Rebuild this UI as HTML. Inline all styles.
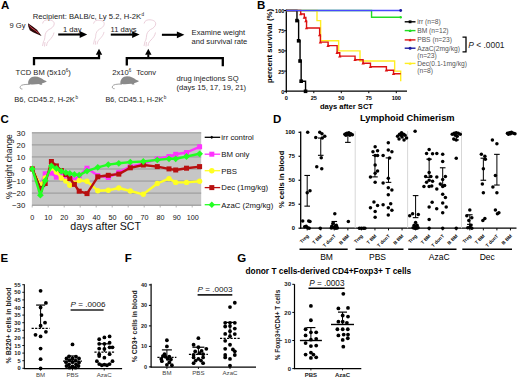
<!DOCTYPE html>
<html><head><meta charset="utf-8"><style>
html,body{margin:0;padding:0;background:#fff;}
svg{display:block;}
text{font-family:"Liberation Sans", sans-serif;}
</style></head><body>
<svg width="520" height="378" viewBox="0 0 520 378">
<rect width="520" height="378" fill="#fff"/>
<text x="1" y="9.1" font-size="11.5" font-weight="bold" text-anchor="start" fill="#000">A</text>
<text x="32.7" y="18.9" font-size="7.68" text-anchor="start" fill="#222">Recipient: BALB/c, Ly 5.2, H-2K</text>
<text x="141.6" y="15.6" font-size="4.6" text-anchor="start" fill="#222">d</text>
<text x="9.5" y="27.7" font-size="7.6" text-anchor="start" fill="#222">9 Gy</text>
<polygon points="28.00,23.30 32.00,26.00 37.00,29.80 41.60,36.00 37.50,34.20 33.00,32.30 29.80,30.20 28.30,26.50" fill="#2a0808"/>
<polyline points="29.20,25.50 32.00,28.20 35.50,30.60 38.80,33.20" fill="none" stroke="#d84050" stroke-width="1.0"/>
<path d="M0.6,4.5 C1,1.5 4,0.6 6.5,0.8 C10,1 12.5,2.5 12.2,5 C12,7.5 9.5,9.5 7,10.5 C4.5,12 3.2,14.5 3,17 C2.8,19.5 2.5,21 1.5,22.5 M12,13.5 C11.5,16.5 9.5,19 7.5,21 C6.5,22 5.5,23 5,24.5 M1.5,22.5 L0.5,27 M3,23 L2.5,27.5 M5,24.5 L4.5,27" fill="none" stroke="#e6c4d2" stroke-width="0.8" transform="translate(42,19) scale(1.0)"/>
<path d="M0.6,4.5 C1,1.5 4,0.6 6.5,0.8 C10,1 12.5,2.5 12.2,5 C12,7.5 9.5,9.5 7,10.5 C4.5,12 3.2,14.5 3,17 C2.8,19.5 2.5,21 1.5,22.5 M12,13.5 C11.5,16.5 9.5,19 7.5,21 C6.5,22 5.5,23 5,24.5 M1.5,22.5 L0.5,27 M3,23 L2.5,27.5 M5,24.5 L4.5,27" fill="none" stroke="#e6c4d2" stroke-width="0.8" transform="translate(93,19.5) scale(0.92)"/>
<path d="M0.6,4.5 C1,1.5 4,0.6 6.5,0.8 C10,1 12.5,2.5 12.2,5 C12,7.5 9.5,9.5 7,10.5 C4.5,12 3.2,14.5 3,17 C2.8,19.5 2.5,21 1.5,22.5 M12,13.5 C11.5,16.5 9.5,19 7.5,21 C6.5,22 5.5,23 5,24.5 M1.5,22.5 L0.5,27 M3,23 L2.5,27.5 M5,24.5 L4.5,27" fill="none" stroke="#e6c4d2" stroke-width="0.8" transform="translate(143.5,19) scale(1.0)"/>
<line x1="58.2" y1="34.5" x2="80.2" y2="34.5" stroke="#000" stroke-width="2.1"/>
<polygon points="79.70,31.10 87.20,34.50 79.70,37.90" fill="#000"/>
<text x="63" y="31.8" font-size="7.6" text-anchor="start" fill="#222">1 day</text>
<line x1="110.8" y1="34.6" x2="132.6" y2="34.6" stroke="#000" stroke-width="2.1"/>
<polygon points="132.10,31.20 139.60,34.60 132.10,38.00" fill="#000"/>
<text x="110.6" y="31.8" font-size="7.6" text-anchor="start" fill="#222">11 days</text>
<line x1="161.9" y1="34.8" x2="177.4" y2="34.8" stroke="#000" stroke-width="2.1"/>
<polygon points="176.90,31.40 184.40,34.80 176.90,38.20" fill="#000"/>
<text x="191.6" y="35.0" font-size="7.6" text-anchor="start" fill="#222">Examine weight</text>
<text x="191.6" y="43.9" font-size="7.6" text-anchor="start" fill="#222">and survival rate</text>
<polyline points="34.00,65.20 34.00,58.20 99.00,58.20 99.00,55.00" fill="none" stroke="#000" stroke-width="2.3"/>
<line x1="99" y1="58.2" x2="99" y2="54.3" stroke="#000" stroke-width="2.0"/>
<polygon points="95.80,54.80 99.00,48.80 102.20,54.80" fill="#000"/>
<polyline points="126.80,65.60 126.80,58.20 222.80,58.20 222.80,66.20" fill="none" stroke="#000" stroke-width="2.3"/>
<line x1="148.3" y1="58.2" x2="148.3" y2="54.3" stroke="#000" stroke-width="2.0"/>
<polygon points="145.10,54.80 148.30,48.80 151.50,54.80" fill="#000"/>
<text x="15.6" y="75" font-size="7.6" text-anchor="start" fill="#222">TCD BM (5x10<tspan font-size="4.5" dy="-3">6</tspan><tspan dy="3">)</tspan></text>
<text x="112.2" y="74.6" font-size="7.6" text-anchor="start" fill="#222">2x10<tspan font-size="4.5" dy="-3">6</tspan></text>
<text x="136.3" y="74.6" font-size="7.6" text-anchor="start" fill="#222">Tconv</text>
<text x="176.5" y="80.6" font-size="7.6" text-anchor="start" fill="#222">drug injections SQ</text>
<text x="176.5" y="89.9" font-size="7.6" text-anchor="start" fill="#222">(days 15, 17, 19, 21)</text>
<text x="14.3" y="101.7" font-size="7.4" text-anchor="start" fill="#222" textLength="60.6" lengthAdjust="spacingAndGlyphs">B6, CD45.2, H-2K</text>
<text x="75.4" y="98.6" font-size="4.6" text-anchor="start" fill="#222">b</text>
<text x="105.4" y="101.7" font-size="7.4" text-anchor="start" fill="#222" textLength="57.9" lengthAdjust="spacingAndGlyphs">B6, CD45.1, H-2K</text>
<text x="163.8" y="98.6" font-size="4.6" text-anchor="start" fill="#222">b</text>
<g transform="translate(19.8,76.5)"><path d="M8.5,8 C7.5,3.5 11,0 15,0 C19,0 22,2 24,3.5 L27,4.8 C26,6 24,6.5 22,7 L22.5,8.3 L20,8.3 L19.5,7.5 C16,8 12,8.1 10,7.8 L9.5,8.5 Z" fill="#8a8a8a"/><path d="M9,7.8 C5,8 1.5,8 0.5,10 C-0.2,11.5 0.8,12.6 2.6,12.5" fill="none" stroke="#8a8a8a" stroke-width="0.8"/></g>
<g transform="translate(112,76.2)"><path d="M8.5,8 C7.5,3.5 11,0 15,0 C19,0 22,2 24,3.5 L27,4.8 C26,6 24,6.5 22,7 L22.5,8.3 L20,8.3 L19.5,7.5 C16,8 12,8.1 10,7.8 L9.5,8.5 Z" fill="#8a8a8a"/><path d="M9,7.8 C5,8 1.5,8 0.5,10 C-0.2,11.5 0.8,12.6 2.6,12.5" fill="none" stroke="#8a8a8a" stroke-width="0.8"/></g>
<text x="257" y="9.4" font-size="11.5" font-weight="bold" text-anchor="start" fill="#000">B</text>
<line x1="286.3" y1="9.5" x2="286.3" y2="91.8" stroke="#000" stroke-width="1.3"/>
<line x1="285.7" y1="91.2" x2="407" y2="91.2" stroke="#000" stroke-width="1.3"/>
<line x1="284.1" y1="91.3" x2="286.3" y2="91.3" stroke="#000" stroke-width="1"/>
<text x="284.4" y="93.7" font-size="5.6" font-weight="bold" text-anchor="end" fill="#000">0</text>
<line x1="284.1" y1="71.1" x2="286.3" y2="71.1" stroke="#000" stroke-width="1"/>
<text x="284.4" y="73.5" font-size="5.6" font-weight="bold" text-anchor="end" fill="#000">25</text>
<line x1="284.1" y1="50.89999999999999" x2="286.3" y2="50.89999999999999" stroke="#000" stroke-width="1"/>
<text x="284.4" y="53.29999999999999" font-size="5.6" font-weight="bold" text-anchor="end" fill="#000">50</text>
<line x1="284.1" y1="30.699999999999996" x2="286.3" y2="30.699999999999996" stroke="#000" stroke-width="1"/>
<text x="284.4" y="33.099999999999994" font-size="5.6" font-weight="bold" text-anchor="end" fill="#000">75</text>
<line x1="284.1" y1="10.499999999999986" x2="286.3" y2="10.499999999999986" stroke="#000" stroke-width="1"/>
<text x="284.4" y="12.899999999999986" font-size="5.6" font-weight="bold" text-anchor="end" fill="#000">100</text>
<line x1="286.3" y1="91.2" x2="286.3" y2="93.2" stroke="#000" stroke-width="1"/>
<text x="286.3" y="99.9" font-size="5.6" font-weight="bold" text-anchor="middle" fill="#000">0</text>
<line x1="313.8" y1="91.2" x2="313.8" y2="93.2" stroke="#000" stroke-width="1"/>
<text x="313.8" y="99.9" font-size="5.6" font-weight="bold" text-anchor="middle" fill="#000">25</text>
<line x1="341.3" y1="91.2" x2="341.3" y2="93.2" stroke="#000" stroke-width="1"/>
<text x="341.3" y="99.9" font-size="5.6" font-weight="bold" text-anchor="middle" fill="#000">50</text>
<line x1="368.8" y1="91.2" x2="368.8" y2="93.2" stroke="#000" stroke-width="1"/>
<text x="368.8" y="99.9" font-size="5.6" font-weight="bold" text-anchor="middle" fill="#000">75</text>
<line x1="396.3" y1="91.2" x2="396.3" y2="93.2" stroke="#000" stroke-width="1"/>
<text x="396.3" y="99.9" font-size="5.6" font-weight="bold" text-anchor="middle" fill="#000">100</text>
<text x="320" y="108.5" font-size="7.57" font-weight="bold" text-anchor="start" fill="#000">days after SCT</text>
<text x="271.8" y="46" font-size="7.8" font-weight="bold" text-anchor="middle" fill="#000" transform="rotate(-90 271.8 46)">percent survival (%)</text>
<polyline points="286.30,10.50 371.55,10.50 371.55,10.50 371.55,10.50 371.55,17.21 400.70,17.21 400.70,17.21" fill="none" stroke="#22dd22" stroke-width="1.4"/>
<circle cx="400.70" cy="17.21" r="1.2" fill="#22dd22"/>
<polyline points="286.30,10.50 316.99,10.50 316.99,20.60 320.62,20.60 320.62,40.80 338.66,40.80 338.66,50.90 360.00,50.90 360.00,61.00 394.65,61.00 394.65,71.10 400.70,71.10 400.70,81.20" fill="none" stroke="#ffee22" stroke-width="1.4"/>
<polyline points="286.30,10.50 300.71,10.50 300.71,14.01 304.34,14.01 304.34,17.53 305.88,17.53 305.88,21.00 306.54,21.00 306.54,28.03 319.63,28.03 319.63,35.06 320.40,35.06 320.40,42.09 328.10,42.09 328.10,45.65 337.12,45.65 337.12,52.68 339.76,52.68 339.76,56.15 355.05,56.15 355.05,59.71 363.08,59.71 363.08,63.18 370.45,63.18 370.45,66.74 386.40,66.74 386.40,70.21 393.55,70.21 393.55,73.77 400.70,73.77" fill="none" stroke="#dd1111" stroke-width="1.4"/>
<polygon points="299.01,15.31 300.71,12.41 302.41,15.31" fill="#dd1111"/>
<polygon points="302.64,18.83 304.34,15.93 306.04,18.83" fill="#dd1111"/>
<polygon points="304.18,22.30 305.88,19.40 307.58,22.30" fill="#dd1111"/>
<polygon points="304.84,29.33 306.54,26.43 308.24,29.33" fill="#dd1111"/>
<polygon points="317.93,36.36 319.63,33.46 321.33,36.36" fill="#dd1111"/>
<polygon points="318.70,43.39 320.40,40.49 322.10,43.39" fill="#dd1111"/>
<polygon points="326.40,46.95 328.10,44.05 329.80,46.95" fill="#dd1111"/>
<polygon points="335.42,53.98 337.12,51.08 338.82,53.98" fill="#dd1111"/>
<polygon points="338.06,57.45 339.76,54.55 341.46,57.45" fill="#dd1111"/>
<polygon points="353.35,61.01 355.05,58.11 356.75,61.01" fill="#dd1111"/>
<polygon points="361.38,64.48 363.08,61.58 364.78,64.48" fill="#dd1111"/>
<polygon points="368.75,68.04 370.45,65.14 372.15,68.04" fill="#dd1111"/>
<polygon points="384.70,71.51 386.40,68.61 388.10,71.51" fill="#dd1111"/>
<polygon points="391.85,75.07 393.55,72.17 395.25,75.07" fill="#dd1111"/>
<polyline points="286.30,10.50 296.97,10.50 296.97,20.60 298.62,20.60 298.62,40.80 300.05,40.80 300.05,61.00 301.15,61.00 301.15,81.20 305.55,81.20 305.55,91.30" fill="none" stroke="#000" stroke-width="1.4"/>
<rect x="295.17" y="18.799999999999994" width="3.6" height="3.6" fill="#000"/>
<rect x="296.82" y="39.0" width="3.6" height="3.6" fill="#000"/>
<rect x="298.25" y="59.2" width="3.6" height="3.6" fill="#000"/>
<rect x="299.35" y="79.39999999999999" width="3.6" height="3.6" fill="#000"/>
<rect x="303.75" y="89.5" width="3.6" height="3.6" fill="#000"/>
<polyline points="286.30,10.50 400.70,10.50" fill="none" stroke="#4848ff" stroke-width="1.6"/>
<circle cx="400.70" cy="10.50" r="1.4" fill="#1a1aa0"/>
<line x1="404.7" y1="21.8" x2="415.5" y2="21.8" stroke="#000" stroke-width="1.4"/>
<rect x="408.70000000000005" y="20.400000000000002" width="2.8" height="2.8" fill="#000"/>
<text x="417.2" y="24.1" font-size="6.7" text-anchor="start" fill="#555">irr (n=8)</text>
<line x1="404.7" y1="30.6" x2="415.5" y2="30.6" stroke="#22dd22" stroke-width="1.4"/>
<polygon points="408.60,31.90 410.10,29.10 411.60,31.90" fill="#22dd22"/>
<text x="417.2" y="32.9" font-size="6.7" text-anchor="start" fill="#555">BM (n=12)</text>
<line x1="404.7" y1="39.9" x2="415.5" y2="39.9" stroke="#dd1111" stroke-width="1.4"/>
<polygon points="408.60,41.20 410.10,38.40 411.60,41.20" fill="#dd1111"/>
<text x="417.2" y="42.199999999999996" font-size="6.7" text-anchor="start" fill="#555">PBS (n=23)</text>
<line x1="404.7" y1="48.2" x2="415.5" y2="48.2" stroke="#1a1aa0" stroke-width="1.4"/>
<circle cx="410.10" cy="48.20" r="1.5" fill="#1a1aa0"/>
<text x="417.2" y="50.5" font-size="6.7" text-anchor="start" fill="#555">AzaC(2mg/kg)</text>
<line x1="404.7" y1="63.4" x2="415.5" y2="63.4" stroke="#ffee22" stroke-width="1.4"/>
<polygon points="408.60,64.70 410.10,61.90 411.60,64.70" fill="#ffee22"/>
<text x="417.2" y="65.7" font-size="6.7" text-anchor="start" fill="#555">Dec(0.1-1mg/kg)</text>
<text x="417.2" y="58.2" font-size="6.7" text-anchor="start" fill="#555">(n=23)</text>
<text x="417.2" y="73.0" font-size="6.7" text-anchor="start" fill="#555">(n=8)</text>
<polyline points="462.50,37.20 466.00,37.20 466.00,51.80 462.50,51.80" fill="none" stroke="#000" stroke-width="1.3"/>
<text x="468.2" y="48.0" font-size="8.45" text-anchor="start" fill="#222"><tspan font-style="italic">P</tspan> &lt; .0001</text>
<text x="0.5" y="123.2" font-size="11.5" font-weight="bold" text-anchor="start" fill="#000">C</text>
<rect x="31.9" y="132.3" width="169.3" height="73.7" fill="#c6c6c6"/>
<line x1="31.9" y1="132.85" x2="201.2" y2="132.85" stroke="#969696" stroke-width="1.0"/>
<line x1="31.9" y1="144.9" x2="201.2" y2="144.9" stroke="#969696" stroke-width="1.0"/>
<line x1="31.9" y1="156.95" x2="201.2" y2="156.95" stroke="#969696" stroke-width="1.0"/>
<line x1="31.9" y1="169.0" x2="201.2" y2="169.0" stroke="#969696" stroke-width="1.0"/>
<line x1="31.9" y1="181.05" x2="201.2" y2="181.05" stroke="#969696" stroke-width="1.0"/>
<line x1="31.9" y1="193.1" x2="201.2" y2="193.1" stroke="#969696" stroke-width="1.0"/>
<line x1="31.9" y1="205.15" x2="201.2" y2="205.15" stroke="#969696" stroke-width="1.0"/>
<text x="25.3" y="135.65" font-size="7.8" text-anchor="end" fill="#111">30</text>
<text x="25.3" y="147.70000000000002" font-size="7.8" text-anchor="end" fill="#111">20</text>
<text x="25.3" y="159.75" font-size="7.8" text-anchor="end" fill="#111">10</text>
<text x="25.3" y="171.8" font-size="7.8" text-anchor="end" fill="#111">0</text>
<text x="25.3" y="183.85000000000002" font-size="7.8" text-anchor="end" fill="#111">−10</text>
<text x="25.3" y="195.9" font-size="7.8" text-anchor="end" fill="#111">−20</text>
<text x="25.3" y="207.95000000000002" font-size="7.8" text-anchor="end" fill="#111">−30</text>
<text x="32.2" y="219.8" font-size="7.2" text-anchor="middle" fill="#111">0</text>
<text x="48.25" y="219.8" font-size="7.2" text-anchor="middle" fill="#111">10</text>
<text x="64.30000000000001" y="219.8" font-size="7.2" text-anchor="middle" fill="#111">20</text>
<text x="80.35" y="219.8" font-size="7.2" text-anchor="middle" fill="#111">30</text>
<text x="96.4" y="219.8" font-size="7.2" text-anchor="middle" fill="#111">40</text>
<text x="112.45" y="219.8" font-size="7.2" text-anchor="middle" fill="#111">50</text>
<text x="128.5" y="219.8" font-size="7.2" text-anchor="middle" fill="#111">60</text>
<text x="144.55" y="219.8" font-size="7.2" text-anchor="middle" fill="#111">70</text>
<text x="160.60000000000002" y="219.8" font-size="7.2" text-anchor="middle" fill="#111">80</text>
<text x="176.64999999999998" y="219.8" font-size="7.2" text-anchor="middle" fill="#111">90</text>
<text x="192.7" y="219.8" font-size="7.2" text-anchor="middle" fill="#111">100</text>
<line x1="32.2" y1="205.8" x2="32.2" y2="207.5" stroke="#888" stroke-width="0.6"/>
<line x1="48.2" y1="205.8" x2="48.2" y2="207.5" stroke="#888" stroke-width="0.6"/>
<line x1="64.2" y1="205.8" x2="64.2" y2="207.5" stroke="#888" stroke-width="0.6"/>
<line x1="80.2" y1="205.8" x2="80.2" y2="207.5" stroke="#888" stroke-width="0.6"/>
<line x1="96.2" y1="205.8" x2="96.2" y2="207.5" stroke="#888" stroke-width="0.6"/>
<line x1="112.2" y1="205.8" x2="112.2" y2="207.5" stroke="#888" stroke-width="0.6"/>
<line x1="128.2" y1="205.8" x2="128.2" y2="207.5" stroke="#888" stroke-width="0.6"/>
<line x1="144.2" y1="205.8" x2="144.2" y2="207.5" stroke="#888" stroke-width="0.6"/>
<line x1="160.2" y1="205.8" x2="160.2" y2="207.5" stroke="#888" stroke-width="0.6"/>
<line x1="176.2" y1="205.8" x2="176.2" y2="207.5" stroke="#888" stroke-width="0.6"/>
<line x1="192.2" y1="205.8" x2="192.2" y2="207.5" stroke="#888" stroke-width="0.6"/>
<text x="70.3" y="230.1" font-size="10.6" text-anchor="start" fill="#111">days after SCT</text>
<text x="12.4" y="166.7" font-size="8.5" text-anchor="middle" fill="#111" transform="rotate(-90 12.4 166.7)">% weight change</text>
<polyline points="32.30,168.90 40.40,185.00 45.20,173.80 51.40,173.10 56.40,177.10 61.30,175.00 65.80,178.00 69.80,177.50 74.40,179.80 79.20,176.00 87.00,168.20 97.80,175.60 108.30,177.50 118.80,172.30 130.30,166.60 143.30,163.70 157.30,158.80 169.00,156.50 175.70,154.30 186.50,152.50 199.60,146.80" fill="none" stroke="#ff33ff" stroke-width="2.4" stroke-linejoin="round"/>
<rect x="29.8" y="166.4" width="5" height="5" fill="#ff33ff"/>
<rect x="37.9" y="182.5" width="5" height="5" fill="#ff33ff"/>
<rect x="42.7" y="171.3" width="5" height="5" fill="#ff33ff"/>
<rect x="48.9" y="170.6" width="5" height="5" fill="#ff33ff"/>
<rect x="53.9" y="174.6" width="5" height="5" fill="#ff33ff"/>
<rect x="58.8" y="172.5" width="5" height="5" fill="#ff33ff"/>
<rect x="63.3" y="175.5" width="5" height="5" fill="#ff33ff"/>
<rect x="67.3" y="175.0" width="5" height="5" fill="#ff33ff"/>
<rect x="71.9" y="177.3" width="5" height="5" fill="#ff33ff"/>
<rect x="76.7" y="173.5" width="5" height="5" fill="#ff33ff"/>
<rect x="84.5" y="165.7" width="5" height="5" fill="#ff33ff"/>
<rect x="95.3" y="173.1" width="5" height="5" fill="#ff33ff"/>
<rect x="105.8" y="175.0" width="5" height="5" fill="#ff33ff"/>
<rect x="116.3" y="169.8" width="5" height="5" fill="#ff33ff"/>
<rect x="127.8" y="164.1" width="5" height="5" fill="#ff33ff"/>
<rect x="140.8" y="161.2" width="5" height="5" fill="#ff33ff"/>
<rect x="154.8" y="156.3" width="5" height="5" fill="#ff33ff"/>
<rect x="166.5" y="154.0" width="5" height="5" fill="#ff33ff"/>
<rect x="173.2" y="151.8" width="5" height="5" fill="#ff33ff"/>
<rect x="184.0" y="150.0" width="5" height="5" fill="#ff33ff"/>
<rect x="197.1" y="144.3" width="5" height="5" fill="#ff33ff"/>
<polyline points="32.30,168.90 40.40,185.00 45.20,178.00 51.40,167.80 56.40,172.00 61.30,178.00 65.80,181.10 69.80,185.20 74.40,183.00 79.20,180.50 87.00,181.30 97.80,190.70 108.30,190.30 118.80,188.00 130.30,191.00 143.30,194.30 157.30,183.50 169.00,178.60 175.70,182.40 186.50,182.40 199.60,181.30" fill="none" stroke="#ffff22" stroke-width="2.4" stroke-linejoin="round"/>
<circle cx="32.30" cy="168.90" r="2.7" fill="#ffff22"/>
<circle cx="40.40" cy="185.00" r="2.7" fill="#ffff22"/>
<circle cx="45.20" cy="178.00" r="2.7" fill="#ffff22"/>
<circle cx="51.40" cy="167.80" r="2.7" fill="#ffff22"/>
<circle cx="56.40" cy="172.00" r="2.7" fill="#ffff22"/>
<circle cx="61.30" cy="178.00" r="2.7" fill="#ffff22"/>
<circle cx="65.80" cy="181.10" r="2.7" fill="#ffff22"/>
<circle cx="69.80" cy="185.20" r="2.7" fill="#ffff22"/>
<circle cx="74.40" cy="183.00" r="2.7" fill="#ffff22"/>
<circle cx="79.20" cy="180.50" r="2.7" fill="#ffff22"/>
<circle cx="87.00" cy="181.30" r="2.7" fill="#ffff22"/>
<circle cx="97.80" cy="190.70" r="2.7" fill="#ffff22"/>
<circle cx="108.30" cy="190.30" r="2.7" fill="#ffff22"/>
<circle cx="118.80" cy="188.00" r="2.7" fill="#ffff22"/>
<circle cx="130.30" cy="191.00" r="2.7" fill="#ffff22"/>
<circle cx="143.30" cy="194.30" r="2.7" fill="#ffff22"/>
<circle cx="157.30" cy="183.50" r="2.7" fill="#ffff22"/>
<circle cx="169.00" cy="178.60" r="2.7" fill="#ffff22"/>
<circle cx="175.70" cy="182.40" r="2.7" fill="#ffff22"/>
<circle cx="186.50" cy="182.40" r="2.7" fill="#ffff22"/>
<circle cx="199.60" cy="181.30" r="2.7" fill="#ffff22"/>
<polyline points="32.30,168.90 40.40,189.00 45.20,184.60" fill="none" stroke="#000" stroke-width="2.4" stroke-linejoin="round"/>
<polygon points="32.30,167.30 33.90,168.90 32.30,170.50 30.70,168.90" fill="#000"/>
<polygon points="40.40,187.40 42.00,189.00 40.40,190.60 38.80,189.00" fill="#000"/>
<polygon points="45.20,183.00 46.80,184.60 45.20,186.20 43.60,184.60" fill="#000"/>
<polyline points="32.30,168.90 40.40,189.50 45.20,183.50 51.40,161.50 56.40,165.90 61.30,170.50 65.80,174.50 69.80,178.50 74.40,184.40 79.20,191.20 87.00,193.60 97.80,176.80 108.30,175.30 118.80,174.10 130.30,167.80 143.30,165.00 157.30,166.60 169.00,168.90 175.70,170.00 186.50,168.20 199.60,166.60" fill="none" stroke="#b81010" stroke-width="2.4" stroke-linejoin="round"/>
<rect x="29.8" y="166.4" width="5" height="5" fill="#b81010"/>
<rect x="37.9" y="187.0" width="5" height="5" fill="#b81010"/>
<rect x="42.7" y="181.0" width="5" height="5" fill="#b81010"/>
<rect x="48.9" y="159.0" width="5" height="5" fill="#b81010"/>
<rect x="53.9" y="163.4" width="5" height="5" fill="#b81010"/>
<rect x="58.8" y="168.0" width="5" height="5" fill="#b81010"/>
<rect x="63.3" y="172.0" width="5" height="5" fill="#b81010"/>
<rect x="67.3" y="176.0" width="5" height="5" fill="#b81010"/>
<rect x="71.9" y="181.9" width="5" height="5" fill="#b81010"/>
<rect x="76.7" y="188.7" width="5" height="5" fill="#b81010"/>
<rect x="84.5" y="191.1" width="5" height="5" fill="#b81010"/>
<rect x="95.3" y="174.3" width="5" height="5" fill="#b81010"/>
<rect x="105.8" y="172.8" width="5" height="5" fill="#b81010"/>
<rect x="116.3" y="171.6" width="5" height="5" fill="#b81010"/>
<rect x="127.8" y="165.3" width="5" height="5" fill="#b81010"/>
<rect x="140.8" y="162.5" width="5" height="5" fill="#b81010"/>
<rect x="154.8" y="164.1" width="5" height="5" fill="#b81010"/>
<rect x="166.5" y="166.4" width="5" height="5" fill="#b81010"/>
<rect x="173.2" y="167.5" width="5" height="5" fill="#b81010"/>
<rect x="184.0" y="165.7" width="5" height="5" fill="#b81010"/>
<rect x="197.1" y="164.1" width="5" height="5" fill="#b81010"/>
<polyline points="32.30,168.90 40.40,195.20 45.20,180.60 51.40,166.00 56.40,168.50 61.30,171.20 65.80,172.60 69.80,173.50 74.40,174.40 79.20,175.10 87.00,171.10 97.80,167.30 108.30,164.60 118.80,163.30 130.30,162.10 143.30,161.50 157.30,159.90 169.00,158.80 175.70,158.80 186.50,156.50 199.60,153.80" fill="none" stroke="#22ff22" stroke-width="2.4" stroke-linejoin="round"/>
<polygon points="32.30,165.50 35.70,168.90 32.30,172.30 28.90,168.90" fill="#22ff22"/>
<polygon points="40.40,191.80 43.80,195.20 40.40,198.60 37.00,195.20" fill="#22ff22"/>
<polygon points="45.20,177.20 48.60,180.60 45.20,184.00 41.80,180.60" fill="#22ff22"/>
<polygon points="51.40,162.60 54.80,166.00 51.40,169.40 48.00,166.00" fill="#22ff22"/>
<polygon points="56.40,165.10 59.80,168.50 56.40,171.90 53.00,168.50" fill="#22ff22"/>
<polygon points="61.30,167.80 64.70,171.20 61.30,174.60 57.90,171.20" fill="#22ff22"/>
<polygon points="65.80,169.20 69.20,172.60 65.80,176.00 62.40,172.60" fill="#22ff22"/>
<polygon points="69.80,170.10 73.20,173.50 69.80,176.90 66.40,173.50" fill="#22ff22"/>
<polygon points="74.40,171.00 77.80,174.40 74.40,177.80 71.00,174.40" fill="#22ff22"/>
<polygon points="79.20,171.70 82.60,175.10 79.20,178.50 75.80,175.10" fill="#22ff22"/>
<polygon points="87.00,167.70 90.40,171.10 87.00,174.50 83.60,171.10" fill="#22ff22"/>
<polygon points="97.80,163.90 101.20,167.30 97.80,170.70 94.40,167.30" fill="#22ff22"/>
<polygon points="108.30,161.20 111.70,164.60 108.30,168.00 104.90,164.60" fill="#22ff22"/>
<polygon points="118.80,159.90 122.20,163.30 118.80,166.70 115.40,163.30" fill="#22ff22"/>
<polygon points="130.30,158.70 133.70,162.10 130.30,165.50 126.90,162.10" fill="#22ff22"/>
<polygon points="143.30,158.10 146.70,161.50 143.30,164.90 139.90,161.50" fill="#22ff22"/>
<polygon points="157.30,156.50 160.70,159.90 157.30,163.30 153.90,159.90" fill="#22ff22"/>
<polygon points="169.00,155.40 172.40,158.80 169.00,162.20 165.60,158.80" fill="#22ff22"/>
<polygon points="175.70,155.40 179.10,158.80 175.70,162.20 172.30,158.80" fill="#22ff22"/>
<polygon points="186.50,153.10 189.90,156.50 186.50,159.90 183.10,156.50" fill="#22ff22"/>
<polygon points="199.60,150.40 203.00,153.80 199.60,157.20 196.20,153.80" fill="#22ff22"/>
<line x1="204.7" y1="137.3" x2="220.2" y2="137.3" stroke="#000" stroke-width="1.3"/>
<polygon points="211.80,135.70 213.40,137.30 211.80,138.90 210.20,137.30" fill="#000"/>
<text x="221.3" y="140.10000000000002" font-size="7.8" text-anchor="start" fill="#111">irr control</text>
<line x1="204.7" y1="154.2" x2="220.2" y2="154.2" stroke="#ff33ff" stroke-width="1.3"/>
<rect x="209.3" y="151.7" width="5" height="5" fill="#ff33ff"/>
<text x="221.3" y="157.0" font-size="7.8" text-anchor="start" fill="#111">BM only</text>
<line x1="204.7" y1="170.7" x2="220.2" y2="170.7" stroke="#ffff22" stroke-width="1.3"/>
<circle cx="211.80" cy="170.70" r="2.7" fill="#ffff22"/>
<text x="221.3" y="173.5" font-size="7.8" text-anchor="start" fill="#111">PBS</text>
<line x1="204.7" y1="187.6" x2="220.2" y2="187.6" stroke="#b81010" stroke-width="1.3"/>
<rect x="209.3" y="185.1" width="5" height="5" fill="#b81010"/>
<text x="221.3" y="190.4" font-size="7.8" text-anchor="start" fill="#111">Dec (1mg/kg)</text>
<line x1="204.7" y1="204.7" x2="220.2" y2="204.7" stroke="#22ff22" stroke-width="1.3"/>
<polygon points="211.80,201.50 215.00,204.70 211.80,207.90 208.60,204.70" fill="#22ff22"/>
<text x="221.3" y="207.5" font-size="7.8" text-anchor="start" fill="#111">AzaC (2mg/kg)</text>
<text x="273" y="123.2" font-size="11.5" font-weight="bold" text-anchor="start" fill="#000">D</text>
<text x="407.3" y="120.8" font-size="9.3" font-weight="bold" text-anchor="middle" fill="#000">Lymphoid Chimerism</text>
<line x1="300.7" y1="131.5" x2="300.7" y2="228.79999999999998" stroke="#000" stroke-width="1.3"/>
<line x1="300.09999999999997" y1="228.2" x2="516.5" y2="228.2" stroke="#000" stroke-width="1.3"/>
<line x1="298.5" y1="228.2" x2="300.7" y2="228.2" stroke="#000" stroke-width="1.2"/>
<text x="295.0" y="230.2" font-size="5.8" font-weight="bold" text-anchor="end" fill="#000">0</text>
<line x1="298.5" y1="204.225" x2="300.7" y2="204.225" stroke="#000" stroke-width="1.2"/>
<text x="295.0" y="206.225" font-size="5.8" font-weight="bold" text-anchor="end" fill="#000">25</text>
<line x1="298.5" y1="180.25" x2="300.7" y2="180.25" stroke="#000" stroke-width="1.2"/>
<text x="295.0" y="182.25" font-size="5.8" font-weight="bold" text-anchor="end" fill="#000">50</text>
<line x1="298.5" y1="156.27499999999998" x2="300.7" y2="156.27499999999998" stroke="#000" stroke-width="1.2"/>
<text x="295.0" y="158.27499999999998" font-size="5.8" font-weight="bold" text-anchor="end" fill="#000">75</text>
<line x1="298.5" y1="132.3" x2="300.7" y2="132.3" stroke="#000" stroke-width="1.2"/>
<text x="295.0" y="134.3" font-size="5.8" font-weight="bold" text-anchor="end" fill="#000">100</text>
<line x1="307.2" y1="228.2" x2="307.2" y2="230.39999999999998" stroke="#000" stroke-width="1"/>
<line x1="320.75" y1="228.2" x2="320.75" y2="230.39999999999998" stroke="#000" stroke-width="1"/>
<line x1="334.3" y1="228.2" x2="334.3" y2="230.39999999999998" stroke="#000" stroke-width="1"/>
<line x1="347.85" y1="228.2" x2="347.85" y2="230.39999999999998" stroke="#000" stroke-width="1"/>
<line x1="361.4" y1="228.2" x2="361.4" y2="230.39999999999998" stroke="#000" stroke-width="1"/>
<line x1="374.95" y1="228.2" x2="374.95" y2="230.39999999999998" stroke="#000" stroke-width="1"/>
<line x1="388.5" y1="228.2" x2="388.5" y2="230.39999999999998" stroke="#000" stroke-width="1"/>
<line x1="402.05" y1="228.2" x2="402.05" y2="230.39999999999998" stroke="#000" stroke-width="1"/>
<line x1="415.6" y1="228.2" x2="415.6" y2="230.39999999999998" stroke="#000" stroke-width="1"/>
<line x1="429.15" y1="228.2" x2="429.15" y2="230.39999999999998" stroke="#000" stroke-width="1"/>
<line x1="442.7" y1="228.2" x2="442.7" y2="230.39999999999998" stroke="#000" stroke-width="1"/>
<line x1="456.25" y1="228.2" x2="456.25" y2="230.39999999999998" stroke="#000" stroke-width="1"/>
<line x1="469.8" y1="228.2" x2="469.8" y2="230.39999999999998" stroke="#000" stroke-width="1"/>
<line x1="483.35" y1="228.2" x2="483.35" y2="230.39999999999998" stroke="#000" stroke-width="1"/>
<line x1="496.9" y1="228.2" x2="496.9" y2="230.39999999999998" stroke="#000" stroke-width="1"/>
<line x1="510.45" y1="228.2" x2="510.45" y2="230.39999999999998" stroke="#000" stroke-width="1"/>
<text x="309.0" y="236.3" font-size="4.8" font-weight="bold" text-anchor="end" fill="#000" transform="rotate(-45 309.0 236.3)">Treg</text>
<text x="322.55" y="236.3" font-size="4.8" font-weight="bold" text-anchor="end" fill="#000" transform="rotate(-45 322.55 236.3)">T BM</text>
<text x="336.1" y="236.3" font-size="4.8" font-weight="bold" text-anchor="end" fill="#000" transform="rotate(-45 336.1 236.3)">T donT</text>
<text x="349.65000000000003" y="236.3" font-size="4.8" font-weight="bold" text-anchor="end" fill="#000" transform="rotate(-45 349.65000000000003 236.3)">B BM</text>
<text x="363.2" y="236.3" font-size="4.8" font-weight="bold" text-anchor="end" fill="#000" transform="rotate(-45 363.2 236.3)">Treg</text>
<text x="376.75" y="236.3" font-size="4.8" font-weight="bold" text-anchor="end" fill="#000" transform="rotate(-45 376.75 236.3)">T BM</text>
<text x="390.3" y="236.3" font-size="4.8" font-weight="bold" text-anchor="end" fill="#000" transform="rotate(-45 390.3 236.3)">T donT</text>
<text x="403.85" y="236.3" font-size="4.8" font-weight="bold" text-anchor="end" fill="#000" transform="rotate(-45 403.85 236.3)">B BM</text>
<text x="417.40000000000003" y="236.3" font-size="4.8" font-weight="bold" text-anchor="end" fill="#000" transform="rotate(-45 417.40000000000003 236.3)">Treg</text>
<text x="430.95" y="236.3" font-size="4.8" font-weight="bold" text-anchor="end" fill="#000" transform="rotate(-45 430.95 236.3)">T BM</text>
<text x="444.5" y="236.3" font-size="4.8" font-weight="bold" text-anchor="end" fill="#000" transform="rotate(-45 444.5 236.3)">T donT</text>
<text x="458.05" y="236.3" font-size="4.8" font-weight="bold" text-anchor="end" fill="#000" transform="rotate(-45 458.05 236.3)">B BM</text>
<text x="471.6" y="236.3" font-size="4.8" font-weight="bold" text-anchor="end" fill="#000" transform="rotate(-45 471.6 236.3)">Treg</text>
<text x="485.15000000000003" y="236.3" font-size="4.8" font-weight="bold" text-anchor="end" fill="#000" transform="rotate(-45 485.15000000000003 236.3)">T BM</text>
<text x="498.7" y="236.3" font-size="4.8" font-weight="bold" text-anchor="end" fill="#000" transform="rotate(-45 498.7 236.3)">T donT</text>
<text x="512.25" y="236.3" font-size="4.8" font-weight="bold" text-anchor="end" fill="#000" transform="rotate(-45 512.25 236.3)">B BM</text>
<line x1="355.2" y1="131" x2="355.2" y2="228.2" stroke="#d2d2d2" stroke-width="0.9"/>
<line x1="407.6" y1="131" x2="407.6" y2="228.2" stroke="#d2d2d2" stroke-width="0.9"/>
<line x1="461.5" y1="131" x2="461.5" y2="228.2" stroke="#d2d2d2" stroke-width="0.9"/>
<line x1="299.5" y1="249.3" x2="347.7" y2="249.3" stroke="#000" stroke-width="1.6"/>
<line x1="355.5" y1="249.3" x2="403.5" y2="249.3" stroke="#000" stroke-width="1.6"/>
<line x1="408.2" y1="249.3" x2="456.5" y2="249.3" stroke="#000" stroke-width="1.6"/>
<line x1="462.3" y1="249.3" x2="512.0" y2="249.3" stroke="#000" stroke-width="1.6"/>
<text x="326.5" y="259.8" font-size="8.5" text-anchor="middle" fill="#000">BM</text>
<text x="377.5" y="259.8" font-size="8.5" text-anchor="middle" fill="#000">PBS</text>
<text x="439.2" y="259.8" font-size="8.5" text-anchor="middle" fill="#000">AzaC</text>
<text x="487.2" y="259.8" font-size="8.5" text-anchor="middle" fill="#000">Dec</text>
<text x="284.4" y="179.3" font-size="7.6" font-weight="bold" text-anchor="middle" fill="#000" transform="rotate(-90 284.4 179.3)">% cells in blood</text>
<circle cx="307.70" cy="132.30" r="1.75" fill="#000"/>
<circle cx="310.00" cy="190.80" r="1.75" fill="#000"/>
<circle cx="307.20" cy="192.72" r="1.75" fill="#000"/>
<circle cx="302.70" cy="221.01" r="1.75" fill="#000"/>
<circle cx="308.70" cy="221.01" r="1.75" fill="#000"/>
<circle cx="310.00" cy="221.49" r="1.75" fill="#000"/>
<circle cx="306.20" cy="226.28" r="1.75" fill="#000"/>
<circle cx="307.70" cy="227.72" r="1.75" fill="#000"/>
<circle cx="304.70" cy="226.76" r="1.75" fill="#000"/>
<circle cx="309.20" cy="228.20" r="1.75" fill="#000"/>
<line x1="307.2" y1="175.45499999999998" x2="307.2" y2="206.143" stroke="#000" stroke-width="1"/>
<line x1="304.4" y1="175.45499999999998" x2="310.0" y2="175.45499999999998" stroke="#000" stroke-width="1.1"/>
<line x1="304.4" y1="206.143" x2="310.0" y2="206.143" stroke="#000" stroke-width="1.1"/>
<circle cx="319.75" cy="132.30" r="1.75" fill="#000"/>
<circle cx="321.95" cy="133.74" r="1.75" fill="#000"/>
<circle cx="324.75" cy="136.14" r="1.75" fill="#000"/>
<circle cx="315.75" cy="137.57" r="1.75" fill="#000"/>
<circle cx="322.25" cy="138.05" r="1.75" fill="#000"/>
<circle cx="321.25" cy="157.71" r="1.75" fill="#000"/>
<circle cx="316.75" cy="166.82" r="1.75" fill="#000"/>
<circle cx="321.75" cy="168.74" r="1.75" fill="#000"/>
<circle cx="320.25" cy="228.20" r="1.75" fill="#000"/>
<line x1="320.75" y1="138.05399999999997" x2="320.75" y2="155.31599999999997" stroke="#000" stroke-width="1"/>
<line x1="317.95" y1="138.05399999999997" x2="323.55" y2="138.05399999999997" stroke="#000" stroke-width="1.1"/>
<line x1="317.95" y1="155.31599999999997" x2="323.55" y2="155.31599999999997" stroke="#000" stroke-width="1.1"/>
<circle cx="334.80" cy="213.81" r="1.75" fill="#000"/>
<circle cx="332.80" cy="223.41" r="1.75" fill="#000"/>
<circle cx="336.30" cy="225.32" r="1.75" fill="#000"/>
<circle cx="331.80" cy="226.28" r="1.75" fill="#000"/>
<circle cx="334.80" cy="226.76" r="1.75" fill="#000"/>
<circle cx="336.80" cy="227.24" r="1.75" fill="#000"/>
<circle cx="333.30" cy="227.72" r="1.75" fill="#000"/>
<circle cx="335.80" cy="228.20" r="1.75" fill="#000"/>
<circle cx="337.30" cy="227.91" r="1.75" fill="#000"/>
<circle cx="331.30" cy="228.01" r="1.75" fill="#000"/>
<line x1="334.3" y1="221.487" x2="334.3" y2="228.2" stroke="#000" stroke-width="1"/>
<line x1="331.5" y1="221.487" x2="337.1" y2="221.487" stroke="#000" stroke-width="1.1"/>
<line x1="331.5" y1="228.2" x2="337.1" y2="228.2" stroke="#000" stroke-width="1.1"/>
<circle cx="344.85" cy="134.22" r="1.75" fill="#000"/>
<circle cx="346.85" cy="133.26" r="1.75" fill="#000"/>
<circle cx="348.85" cy="132.78" r="1.75" fill="#000"/>
<circle cx="350.85" cy="133.74" r="1.75" fill="#000"/>
<circle cx="352.35" cy="134.70" r="1.75" fill="#000"/>
<circle cx="347.85" cy="134.22" r="1.75" fill="#000"/>
<circle cx="345.85" cy="135.18" r="1.75" fill="#000"/>
<circle cx="349.85" cy="135.18" r="1.75" fill="#000"/>
<circle cx="348.35" cy="221.49" r="1.75" fill="#000"/>
<line x1="347.85" y1="132.77949999999998" x2="347.85" y2="142.3695" stroke="#000" stroke-width="1"/>
<line x1="345.05" y1="132.77949999999998" x2="350.65000000000003" y2="132.77949999999998" stroke="#000" stroke-width="1.1"/>
<line x1="345.05" y1="142.3695" x2="350.65000000000003" y2="142.3695" stroke="#000" stroke-width="1.1"/>
<circle cx="359.40" cy="228.20" r="1.75" fill="#000"/>
<circle cx="361.40" cy="228.20" r="1.75" fill="#000"/>
<circle cx="363.40" cy="228.20" r="1.75" fill="#000"/>
<circle cx="364.90" cy="228.20" r="1.75" fill="#000"/>
<circle cx="375.15" cy="146.69" r="1.75" fill="#000"/>
<circle cx="372.95" cy="151.86" r="1.75" fill="#000"/>
<circle cx="377.55" cy="150.71" r="1.75" fill="#000"/>
<circle cx="375.15" cy="155.51" r="1.75" fill="#000"/>
<circle cx="377.55" cy="155.51" r="1.75" fill="#000"/>
<circle cx="375.15" cy="165.00" r="1.75" fill="#000"/>
<circle cx="377.55" cy="171.04" r="1.75" fill="#000"/>
<circle cx="375.15" cy="173.35" r="1.75" fill="#000"/>
<circle cx="370.45" cy="176.89" r="1.75" fill="#000"/>
<circle cx="375.15" cy="182.36" r="1.75" fill="#000"/>
<circle cx="373.95" cy="201.92" r="1.75" fill="#000"/>
<circle cx="370.45" cy="207.87" r="1.75" fill="#000"/>
<circle cx="377.55" cy="205.47" r="1.75" fill="#000"/>
<circle cx="375.15" cy="211.42" r="1.75" fill="#000"/>
<circle cx="375.15" cy="217.36" r="1.75" fill="#000"/>
<line x1="374.95" y1="155.50779999999997" x2="374.95" y2="176.8935" stroke="#000" stroke-width="1"/>
<line x1="372.15" y1="155.50779999999997" x2="377.75" y2="155.50779999999997" stroke="#000" stroke-width="1.1"/>
<line x1="372.15" y1="176.8935" x2="377.75" y2="176.8935" stroke="#000" stroke-width="1.1"/>
<circle cx="388.30" cy="142.85" r="1.75" fill="#000"/>
<circle cx="388.30" cy="150.04" r="1.75" fill="#000"/>
<circle cx="391.90" cy="151.86" r="1.75" fill="#000"/>
<circle cx="383.10" cy="155.51" r="1.75" fill="#000"/>
<circle cx="389.50" cy="157.91" r="1.75" fill="#000"/>
<circle cx="388.30" cy="178.14" r="1.75" fill="#000"/>
<circle cx="383.10" cy="182.94" r="1.75" fill="#000"/>
<circle cx="388.30" cy="187.63" r="1.75" fill="#000"/>
<circle cx="391.90" cy="190.03" r="1.75" fill="#000"/>
<circle cx="388.30" cy="194.83" r="1.75" fill="#000"/>
<circle cx="390.70" cy="203.84" r="1.75" fill="#000"/>
<circle cx="388.30" cy="207.87" r="1.75" fill="#000"/>
<circle cx="391.90" cy="210.17" r="1.75" fill="#000"/>
<circle cx="388.30" cy="214.97" r="1.75" fill="#000"/>
<circle cx="383.10" cy="204.80" r="1.75" fill="#000"/>
<line x1="388.5" y1="157.9053" x2="388.5" y2="182.3598" stroke="#000" stroke-width="1"/>
<line x1="385.7" y1="157.9053" x2="391.3" y2="157.9053" stroke="#000" stroke-width="1.1"/>
<line x1="385.7" y1="182.3598" x2="391.3" y2="182.3598" stroke="#000" stroke-width="1.1"/>
<circle cx="397.55" cy="136.14" r="1.75" fill="#000"/>
<circle cx="399.55" cy="134.22" r="1.75" fill="#000"/>
<circle cx="401.55" cy="132.78" r="1.75" fill="#000"/>
<circle cx="403.55" cy="134.22" r="1.75" fill="#000"/>
<circle cx="405.05" cy="135.18" r="1.75" fill="#000"/>
<circle cx="406.55" cy="138.05" r="1.75" fill="#000"/>
<circle cx="402.05" cy="137.09" r="1.75" fill="#000"/>
<circle cx="399.05" cy="139.01" r="1.75" fill="#000"/>
<circle cx="404.05" cy="139.97" r="1.75" fill="#000"/>
<circle cx="401.05" cy="135.18" r="1.75" fill="#000"/>
<circle cx="415.10" cy="131.34" r="1.75" fill="#000"/>
<circle cx="409.70" cy="215.64" r="1.75" fill="#000"/>
<circle cx="412.60" cy="213.81" r="1.75" fill="#000"/>
<circle cx="418.30" cy="214.39" r="1.75" fill="#000"/>
<circle cx="415.60" cy="222.45" r="1.75" fill="#000"/>
<circle cx="414.10" cy="225.32" r="1.75" fill="#000"/>
<circle cx="417.10" cy="225.32" r="1.75" fill="#000"/>
<circle cx="415.60" cy="226.28" r="1.75" fill="#000"/>
<circle cx="413.10" cy="227.72" r="1.75" fill="#000"/>
<circle cx="418.10" cy="227.72" r="1.75" fill="#000"/>
<circle cx="414.60" cy="228.20" r="1.75" fill="#000"/>
<circle cx="416.60" cy="228.20" r="1.75" fill="#000"/>
<line x1="415.6" y1="195.594" x2="415.6" y2="217.65099999999998" stroke="#000" stroke-width="1"/>
<line x1="412.8" y1="195.594" x2="418.40000000000003" y2="195.594" stroke="#000" stroke-width="1.1"/>
<line x1="412.8" y1="217.65099999999998" x2="418.40000000000003" y2="217.65099999999998" stroke="#000" stroke-width="1.1"/>
<circle cx="429.15" cy="149.56" r="1.75" fill="#000"/>
<circle cx="426.55" cy="153.40" r="1.75" fill="#000"/>
<circle cx="432.55" cy="153.78" r="1.75" fill="#000"/>
<circle cx="429.15" cy="159.15" r="1.75" fill="#000"/>
<circle cx="429.15" cy="172.58" r="1.75" fill="#000"/>
<circle cx="425.65" cy="176.41" r="1.75" fill="#000"/>
<circle cx="430.85" cy="176.41" r="1.75" fill="#000"/>
<circle cx="432.55" cy="181.21" r="1.75" fill="#000"/>
<circle cx="426.55" cy="182.17" r="1.75" fill="#000"/>
<circle cx="429.15" cy="180.25" r="1.75" fill="#000"/>
<circle cx="423.95" cy="186.39" r="1.75" fill="#000"/>
<circle cx="429.15" cy="186.39" r="1.75" fill="#000"/>
<circle cx="431.75" cy="186.00" r="1.75" fill="#000"/>
<circle cx="432.15" cy="202.31" r="1.75" fill="#000"/>
<circle cx="429.15" cy="206.91" r="1.75" fill="#000"/>
<circle cx="429.15" cy="219.57" r="1.75" fill="#000"/>
<circle cx="429.15" cy="228.20" r="1.75" fill="#000"/>
<line x1="429.15" y1="159.152" x2="429.15" y2="177.373" stroke="#000" stroke-width="1"/>
<line x1="426.34999999999997" y1="159.152" x2="431.95" y2="159.152" stroke="#000" stroke-width="1.1"/>
<line x1="426.34999999999997" y1="177.373" x2="431.95" y2="177.373" stroke="#000" stroke-width="1.1"/>
<circle cx="436.80" cy="153.40" r="1.75" fill="#000"/>
<circle cx="442.70" cy="154.36" r="1.75" fill="#000"/>
<circle cx="442.70" cy="161.55" r="1.75" fill="#000"/>
<circle cx="436.80" cy="176.99" r="1.75" fill="#000"/>
<circle cx="442.70" cy="179.58" r="1.75" fill="#000"/>
<circle cx="445.40" cy="176.41" r="1.75" fill="#000"/>
<circle cx="440.30" cy="184.09" r="1.75" fill="#000"/>
<circle cx="444.60" cy="185.62" r="1.75" fill="#000"/>
<circle cx="436.80" cy="188.88" r="1.75" fill="#000"/>
<circle cx="442.70" cy="186.39" r="1.75" fill="#000"/>
<circle cx="442.70" cy="194.16" r="1.75" fill="#000"/>
<circle cx="445.40" cy="197.51" r="1.75" fill="#000"/>
<circle cx="442.70" cy="202.88" r="1.75" fill="#000"/>
<circle cx="446.20" cy="206.91" r="1.75" fill="#000"/>
<circle cx="436.70" cy="208.73" r="1.75" fill="#000"/>
<circle cx="442.70" cy="212.66" r="1.75" fill="#000"/>
<circle cx="442.70" cy="228.20" r="1.75" fill="#000"/>
<line x1="442.7" y1="167.783" x2="442.7" y2="185.045" stroke="#000" stroke-width="1"/>
<line x1="439.9" y1="167.783" x2="445.5" y2="167.783" stroke="#000" stroke-width="1.1"/>
<line x1="439.9" y1="185.045" x2="445.5" y2="185.045" stroke="#000" stroke-width="1.1"/>
<circle cx="452.25" cy="134.22" r="1.75" fill="#000"/>
<circle cx="454.25" cy="133.26" r="1.75" fill="#000"/>
<circle cx="456.25" cy="132.78" r="1.75" fill="#000"/>
<circle cx="458.25" cy="133.26" r="1.75" fill="#000"/>
<circle cx="460.25" cy="134.22" r="1.75" fill="#000"/>
<circle cx="455.25" cy="135.18" r="1.75" fill="#000"/>
<circle cx="457.25" cy="136.14" r="1.75" fill="#000"/>
<circle cx="456.25" cy="139.97" r="1.75" fill="#000"/>
<circle cx="453.75" cy="139.01" r="1.75" fill="#000"/>
<circle cx="456.25" cy="158.19" r="1.75" fill="#000"/>
<circle cx="456.25" cy="228.20" r="1.75" fill="#000"/>
<line x1="456.25" y1="133.259" x2="456.25" y2="139.97199999999998" stroke="#000" stroke-width="1"/>
<line x1="453.45" y1="133.259" x2="459.05" y2="133.259" stroke="#000" stroke-width="1.1"/>
<line x1="453.45" y1="139.97199999999998" x2="459.05" y2="139.97199999999998" stroke="#000" stroke-width="1.1"/>
<circle cx="469.80" cy="209.98" r="1.75" fill="#000"/>
<circle cx="466.80" cy="215.73" r="1.75" fill="#000"/>
<circle cx="471.80" cy="217.65" r="1.75" fill="#000"/>
<circle cx="468.80" cy="220.53" r="1.75" fill="#000"/>
<circle cx="470.80" cy="225.32" r="1.75" fill="#000"/>
<circle cx="467.80" cy="227.72" r="1.75" fill="#000"/>
<circle cx="471.80" cy="228.20" r="1.75" fill="#000"/>
<circle cx="469.80" cy="227.24" r="1.75" fill="#000"/>
<line x1="469.8" y1="214.774" x2="469.8" y2="224.36399999999998" stroke="#000" stroke-width="1"/>
<line x1="467.0" y1="214.774" x2="472.6" y2="214.774" stroke="#000" stroke-width="1.1"/>
<line x1="467.0" y1="224.36399999999998" x2="472.6" y2="224.36399999999998" stroke="#000" stroke-width="1.1"/>
<circle cx="481.35" cy="154.36" r="1.75" fill="#000"/>
<circle cx="484.85" cy="156.27" r="1.75" fill="#000"/>
<circle cx="485.35" cy="159.15" r="1.75" fill="#000"/>
<circle cx="483.35" cy="168.74" r="1.75" fill="#000"/>
<circle cx="482.35" cy="184.09" r="1.75" fill="#000"/>
<circle cx="483.35" cy="192.72" r="1.75" fill="#000"/>
<circle cx="484.85" cy="218.61" r="1.75" fill="#000"/>
<circle cx="482.85" cy="220.53" r="1.75" fill="#000"/>
<line x1="483.35" y1="158.19299999999998" x2="483.35" y2="180.25" stroke="#000" stroke-width="1"/>
<line x1="480.55" y1="158.19299999999998" x2="486.15000000000003" y2="158.19299999999998" stroke="#000" stroke-width="1.1"/>
<line x1="480.55" y1="180.25" x2="486.15000000000003" y2="180.25" stroke="#000" stroke-width="1.1"/>
<circle cx="492.40" cy="139.97" r="1.75" fill="#000"/>
<circle cx="496.90" cy="143.81" r="1.75" fill="#000"/>
<circle cx="495.40" cy="175.45" r="1.75" fill="#000"/>
<circle cx="492.90" cy="186.96" r="1.75" fill="#000"/>
<circle cx="496.90" cy="192.72" r="1.75" fill="#000"/>
<circle cx="495.40" cy="209.98" r="1.75" fill="#000"/>
<circle cx="498.90" cy="212.86" r="1.75" fill="#000"/>
<circle cx="497.40" cy="213.81" r="1.75" fill="#000"/>
<line x1="496.9" y1="154.35699999999997" x2="496.9" y2="185.045" stroke="#000" stroke-width="1"/>
<line x1="494.09999999999997" y1="154.35699999999997" x2="499.7" y2="154.35699999999997" stroke="#000" stroke-width="1.1"/>
<line x1="494.09999999999997" y1="185.045" x2="499.7" y2="185.045" stroke="#000" stroke-width="1.1"/>
<circle cx="507.45" cy="133.26" r="1.75" fill="#000"/>
<circle cx="509.45" cy="132.78" r="1.75" fill="#000"/>
<circle cx="511.45" cy="132.30" r="1.75" fill="#000"/>
<circle cx="513.45" cy="133.26" r="1.75" fill="#000"/>
<circle cx="514.95" cy="133.74" r="1.75" fill="#000"/>
<circle cx="510.45" cy="133.74" r="1.75" fill="#000"/>
<circle cx="508.45" cy="134.22" r="1.75" fill="#000"/>
<text x="0.6" y="262.0" font-size="11.5" font-weight="bold" text-anchor="start" fill="#000">E</text>
<line x1="24.3" y1="284.2" x2="24.3" y2="369.1" stroke="#000" stroke-width="1.1"/>
<line x1="23.8" y1="368.6" x2="122.1" y2="368.6" stroke="#000" stroke-width="1.2"/>
<line x1="22.3" y1="368.3" x2="24.3" y2="368.3" stroke="#000" stroke-width="0.9"/>
<text x="20.7" y="370.40000000000003" font-size="5.7" font-weight="bold" text-anchor="end" fill="#222">0</text>
<line x1="22.3" y1="360.7" x2="24.3" y2="360.7" stroke="#000" stroke-width="0.9"/>
<text x="20.7" y="362.8" font-size="5.7" font-weight="bold" text-anchor="end" fill="#222">5</text>
<line x1="22.3" y1="353.1" x2="24.3" y2="353.1" stroke="#000" stroke-width="0.9"/>
<text x="20.7" y="355.20000000000005" font-size="5.7" font-weight="bold" text-anchor="end" fill="#222">10</text>
<line x1="22.3" y1="345.5" x2="24.3" y2="345.5" stroke="#000" stroke-width="0.9"/>
<text x="20.7" y="347.6" font-size="5.7" font-weight="bold" text-anchor="end" fill="#222">15</text>
<line x1="22.3" y1="337.90000000000003" x2="24.3" y2="337.90000000000003" stroke="#000" stroke-width="0.9"/>
<text x="20.7" y="340.00000000000006" font-size="5.7" font-weight="bold" text-anchor="end" fill="#222">20</text>
<line x1="22.3" y1="330.3" x2="24.3" y2="330.3" stroke="#000" stroke-width="0.9"/>
<text x="20.7" y="332.40000000000003" font-size="5.7" font-weight="bold" text-anchor="end" fill="#222">25</text>
<line x1="22.3" y1="322.7" x2="24.3" y2="322.7" stroke="#000" stroke-width="0.9"/>
<text x="20.7" y="324.8" font-size="5.7" font-weight="bold" text-anchor="end" fill="#222">30</text>
<line x1="22.3" y1="315.1" x2="24.3" y2="315.1" stroke="#000" stroke-width="0.9"/>
<text x="20.7" y="317.20000000000005" font-size="5.7" font-weight="bold" text-anchor="end" fill="#222">35</text>
<line x1="22.3" y1="307.5" x2="24.3" y2="307.5" stroke="#000" stroke-width="0.9"/>
<text x="20.7" y="309.6" font-size="5.7" font-weight="bold" text-anchor="end" fill="#222">40</text>
<line x1="22.3" y1="299.9" x2="24.3" y2="299.9" stroke="#000" stroke-width="0.9"/>
<text x="20.7" y="302.0" font-size="5.7" font-weight="bold" text-anchor="end" fill="#222">45</text>
<line x1="22.3" y1="292.3" x2="24.3" y2="292.3" stroke="#000" stroke-width="0.9"/>
<text x="20.7" y="294.40000000000003" font-size="5.7" font-weight="bold" text-anchor="end" fill="#222">50</text>
<line x1="22.3" y1="284.70000000000005" x2="24.3" y2="284.70000000000005" stroke="#000" stroke-width="0.9"/>
<text x="20.7" y="286.80000000000007" font-size="5.7" font-weight="bold" text-anchor="end" fill="#222">55</text>
<text x="11.4" y="325.5" font-size="7.06" font-weight="bold" text-anchor="middle" fill="#222" transform="rotate(-90 11.4 325.5)">% B220+ cells in blood</text>
<line x1="40.6" y1="368.6" x2="40.6" y2="370.5" stroke="#000" stroke-width="0.9"/>
<text x="40.6" y="376.6" font-size="6.1" text-anchor="middle" fill="#444">BM</text>
<line x1="72.5" y1="368.6" x2="72.5" y2="370.5" stroke="#000" stroke-width="0.9"/>
<text x="72.5" y="376.6" font-size="6.1" text-anchor="middle" fill="#444">PBS</text>
<line x1="104.2" y1="368.6" x2="104.2" y2="370.5" stroke="#000" stroke-width="0.9"/>
<text x="104.2" y="376.6" font-size="6.1" text-anchor="middle" fill="#444">AzaC</text>
<circle cx="40.60" cy="290.78" r="1.9" fill="#000"/>
<circle cx="45.90" cy="302.94" r="1.9" fill="#000"/>
<circle cx="40.60" cy="307.50" r="1.9" fill="#000"/>
<circle cx="41.50" cy="315.10" r="1.9" fill="#000"/>
<circle cx="45.00" cy="322.70" r="1.9" fill="#000"/>
<circle cx="40.60" cy="325.74" r="1.9" fill="#000"/>
<circle cx="35.50" cy="334.86" r="1.9" fill="#000"/>
<circle cx="45.90" cy="331.82" r="1.9" fill="#000"/>
<circle cx="40.60" cy="336.38" r="1.9" fill="#000"/>
<circle cx="40.60" cy="348.54" r="1.9" fill="#000"/>
<circle cx="40.60" cy="359.18" r="1.9" fill="#000"/>
<circle cx="40.60" cy="368.30" r="1.9" fill="#000"/>
<line x1="31.6" y1="328.324" x2="49.6" y2="328.324" stroke="#000" stroke-width="1.2" stroke-dasharray="2.2,1.3"/>
<line x1="40.6" y1="328.324" x2="40.6" y2="305.068" stroke="#000" stroke-width="1.0"/>
<line x1="36.1" y1="305.068" x2="45.1" y2="305.068" stroke="#000" stroke-width="1.2"/>
<circle cx="72.50" cy="344.44" r="1.9" fill="#000"/>
<circle cx="69.00" cy="356.29" r="1.9" fill="#000"/>
<circle cx="76.00" cy="356.75" r="1.9" fill="#000"/>
<circle cx="66.50" cy="358.42" r="1.9" fill="#000"/>
<circle cx="72.50" cy="358.42" r="1.9" fill="#000"/>
<circle cx="79.00" cy="358.42" r="1.9" fill="#000"/>
<circle cx="69.50" cy="360.24" r="1.9" fill="#000"/>
<circle cx="75.50" cy="360.70" r="1.9" fill="#000"/>
<circle cx="66.00" cy="362.22" r="1.9" fill="#000"/>
<circle cx="72.50" cy="362.22" r="1.9" fill="#000"/>
<circle cx="79.00" cy="362.52" r="1.9" fill="#000"/>
<circle cx="69.00" cy="364.35" r="1.9" fill="#000"/>
<circle cx="76.00" cy="364.35" r="1.9" fill="#000"/>
<circle cx="66.50" cy="366.02" r="1.9" fill="#000"/>
<circle cx="72.50" cy="366.48" r="1.9" fill="#000"/>
<circle cx="78.50" cy="366.02" r="1.9" fill="#000"/>
<circle cx="69.50" cy="367.69" r="1.9" fill="#000"/>
<circle cx="75.50" cy="367.69" r="1.9" fill="#000"/>
<line x1="63.0" y1="361.156" x2="82.0" y2="361.156" stroke="#000" stroke-width="1.2" stroke-dasharray="2.2,1.3"/>
<line x1="72.5" y1="361.156" x2="72.5" y2="355.988" stroke="#000" stroke-width="1.0"/>
<line x1="68.0" y1="355.988" x2="77.0" y2="355.988" stroke="#000" stroke-width="1.2"/>
<circle cx="99.20" cy="339.27" r="1.9" fill="#000"/>
<circle cx="104.40" cy="337.44" r="1.9" fill="#000"/>
<circle cx="109.60" cy="336.38" r="1.9" fill="#000"/>
<circle cx="99.20" cy="343.83" r="1.9" fill="#000"/>
<circle cx="104.40" cy="343.83" r="1.9" fill="#000"/>
<circle cx="109.60" cy="342.76" r="1.9" fill="#000"/>
<circle cx="99.20" cy="348.54" r="1.9" fill="#000"/>
<circle cx="104.40" cy="349.00" r="1.9" fill="#000"/>
<circle cx="109.60" cy="347.32" r="1.9" fill="#000"/>
<circle cx="112.50" cy="347.32" r="1.9" fill="#000"/>
<circle cx="99.20" cy="354.16" r="1.9" fill="#000"/>
<circle cx="99.20" cy="355.99" r="1.9" fill="#000"/>
<circle cx="104.40" cy="357.66" r="1.9" fill="#000"/>
<circle cx="109.60" cy="354.16" r="1.9" fill="#000"/>
<circle cx="96.90" cy="361.16" r="1.9" fill="#000"/>
<circle cx="112.50" cy="361.16" r="1.9" fill="#000"/>
<circle cx="99.20" cy="364.04" r="1.9" fill="#000"/>
<circle cx="104.40" cy="364.65" r="1.9" fill="#000"/>
<circle cx="109.60" cy="364.04" r="1.9" fill="#000"/>
<circle cx="101.80" cy="365.26" r="1.9" fill="#000"/>
<circle cx="107.00" cy="365.26" r="1.9" fill="#000"/>
<line x1="94.4" y1="352.036" x2="114.4" y2="352.036" stroke="#000" stroke-width="1.2" stroke-dasharray="2.2,1.3"/>
<line x1="104.4" y1="352.036" x2="104.4" y2="343.82800000000003" stroke="#000" stroke-width="1.0"/>
<line x1="99.9" y1="343.82800000000003" x2="108.9" y2="343.82800000000003" stroke="#000" stroke-width="1.2"/>
<text x="70.6" y="306.6" font-size="8.1" text-anchor="start" fill="#111"><tspan font-style="italic">P</tspan> = .0006</text>
<line x1="70.6" y1="310.0" x2="103.6" y2="310.0" stroke="#222" stroke-width="1.7"/>
<text x="124.8" y="262.0" font-size="11.5" font-weight="bold" text-anchor="start" fill="#000">F</text>
<line x1="151.1" y1="283.8" x2="151.1" y2="367.4" stroke="#000" stroke-width="1.2"/>
<line x1="150.6" y1="367.2" x2="256" y2="367.2" stroke="#000" stroke-width="1.2"/>
<line x1="148.9" y1="366.9" x2="151.1" y2="366.9" stroke="#000" stroke-width="1"/>
<text x="147.0" y="368.9" font-size="5.5" font-weight="bold" text-anchor="end" fill="#222">0</text>
<line x1="148.9" y1="346.4" x2="151.1" y2="346.4" stroke="#000" stroke-width="1"/>
<text x="147.0" y="348.4" font-size="5.5" font-weight="bold" text-anchor="end" fill="#222">10</text>
<line x1="148.9" y1="325.9" x2="151.1" y2="325.9" stroke="#000" stroke-width="1"/>
<text x="147.0" y="327.9" font-size="5.5" font-weight="bold" text-anchor="end" fill="#222">20</text>
<line x1="148.9" y1="305.4" x2="151.1" y2="305.4" stroke="#000" stroke-width="1"/>
<text x="147.0" y="307.4" font-size="5.5" font-weight="bold" text-anchor="end" fill="#222">30</text>
<line x1="148.9" y1="284.9" x2="151.1" y2="284.9" stroke="#000" stroke-width="1"/>
<text x="147.0" y="286.9" font-size="5.5" font-weight="bold" text-anchor="end" fill="#222">40</text>
<text x="137.5" y="326.3" font-size="6.9" font-weight="bold" text-anchor="middle" fill="#222" transform="rotate(-90 137.5 326.3)">% CD3+ cells in blood</text>
<line x1="166.9" y1="367.2" x2="166.9" y2="369.0" stroke="#000" stroke-width="0.9"/>
<text x="166.9" y="375.4" font-size="6.1" text-anchor="middle" fill="#444">BM</text>
<line x1="198.4" y1="367.2" x2="198.4" y2="369.0" stroke="#000" stroke-width="0.9"/>
<text x="198.4" y="375.4" font-size="6.1" text-anchor="middle" fill="#444">PBS</text>
<line x1="230.0" y1="367.2" x2="230.0" y2="369.0" stroke="#000" stroke-width="0.9"/>
<text x="230.0" y="375.4" font-size="6.1" text-anchor="middle" fill="#444">AzaC</text>
<circle cx="166.90" cy="340.25" r="1.9" fill="#000"/>
<circle cx="166.90" cy="346.40" r="1.9" fill="#000"/>
<circle cx="164.50" cy="354.19" r="1.9" fill="#000"/>
<circle cx="162.90" cy="356.03" r="1.9" fill="#000"/>
<circle cx="165.60" cy="356.85" r="1.9" fill="#000"/>
<circle cx="167.70" cy="358.90" r="1.9" fill="#000"/>
<circle cx="169.30" cy="356.65" r="1.9" fill="#000"/>
<circle cx="170.90" cy="359.52" r="1.9" fill="#000"/>
<circle cx="161.30" cy="358.90" r="1.9" fill="#000"/>
<circle cx="161.90" cy="361.16" r="1.9" fill="#000"/>
<circle cx="169.30" cy="362.39" r="1.9" fill="#000"/>
<circle cx="166.90" cy="364.85" r="1.9" fill="#000"/>
<circle cx="171.90" cy="365.26" r="1.9" fill="#000"/>
<line x1="157.4" y1="357.46999999999997" x2="176.4" y2="357.46999999999997" stroke="#000" stroke-width="1.2" stroke-dasharray="2.2,1.3"/>
<line x1="166.9" y1="357.46999999999997" x2="166.9" y2="349.885" stroke="#000" stroke-width="1.0"/>
<line x1="161.9" y1="349.885" x2="171.9" y2="349.885" stroke="#000" stroke-width="1.2"/>
<circle cx="198.40" cy="338.20" r="1.9" fill="#000"/>
<circle cx="193.60" cy="344.76" r="1.9" fill="#000"/>
<circle cx="198.40" cy="347.22" r="1.9" fill="#000"/>
<circle cx="206.30" cy="348.86" r="1.9" fill="#000"/>
<circle cx="195.20" cy="351.52" r="1.9" fill="#000"/>
<circle cx="201.60" cy="350.91" r="1.9" fill="#000"/>
<circle cx="193.60" cy="354.80" r="1.9" fill="#000"/>
<circle cx="199.40" cy="353.16" r="1.9" fill="#000"/>
<circle cx="203.10" cy="354.19" r="1.9" fill="#000"/>
<circle cx="193.60" cy="357.47" r="1.9" fill="#000"/>
<circle cx="203.10" cy="357.47" r="1.9" fill="#000"/>
<circle cx="198.40" cy="358.90" r="1.9" fill="#000"/>
<circle cx="195.70" cy="360.54" r="1.9" fill="#000"/>
<circle cx="201.00" cy="360.54" r="1.9" fill="#000"/>
<circle cx="193.60" cy="363.21" r="1.9" fill="#000"/>
<circle cx="203.10" cy="363.21" r="1.9" fill="#000"/>
<line x1="188.9" y1="354.395" x2="207.9" y2="354.395" stroke="#000" stroke-width="1.2" stroke-dasharray="2.2,1.3"/>
<line x1="198.4" y1="354.395" x2="198.4" y2="347.21999999999997" stroke="#000" stroke-width="1.0"/>
<line x1="192.4" y1="347.21999999999997" x2="204.4" y2="347.21999999999997" stroke="#000" stroke-width="1.2"/>
<circle cx="234.80" cy="302.74" r="1.9" fill="#000"/>
<circle cx="230.00" cy="307.04" r="1.9" fill="#000"/>
<circle cx="225.20" cy="322.82" r="1.9" fill="#000"/>
<circle cx="230.00" cy="322.82" r="1.9" fill="#000"/>
<circle cx="234.80" cy="322.82" r="1.9" fill="#000"/>
<circle cx="225.20" cy="326.51" r="1.9" fill="#000"/>
<circle cx="230.00" cy="326.10" r="1.9" fill="#000"/>
<circle cx="234.80" cy="328.56" r="1.9" fill="#000"/>
<circle cx="230.00" cy="331.23" r="1.9" fill="#000"/>
<circle cx="225.20" cy="333.89" r="1.9" fill="#000"/>
<circle cx="234.80" cy="334.10" r="1.9" fill="#000"/>
<circle cx="230.00" cy="336.15" r="1.9" fill="#000"/>
<circle cx="225.20" cy="340.87" r="1.9" fill="#000"/>
<circle cx="230.00" cy="344.76" r="1.9" fill="#000"/>
<circle cx="225.20" cy="348.86" r="1.9" fill="#000"/>
<circle cx="232.90" cy="349.47" r="1.9" fill="#000"/>
<circle cx="234.80" cy="351.32" r="1.9" fill="#000"/>
<circle cx="225.20" cy="355.01" r="1.9" fill="#000"/>
<circle cx="234.80" cy="355.01" r="1.9" fill="#000"/>
<circle cx="230.00" cy="358.90" r="1.9" fill="#000"/>
<circle cx="225.20" cy="357.47" r="1.9" fill="#000"/>
<circle cx="230.00" cy="365.67" r="1.9" fill="#000"/>
<line x1="220.0" y1="338.405" x2="240.0" y2="338.405" stroke="#000" stroke-width="1.2" stroke-dasharray="2.2,1.3"/>
<line x1="230.0" y1="338.405" x2="230.0" y2="322.41499999999996" stroke="#000" stroke-width="1.0"/>
<line x1="225.0" y1="322.41499999999996" x2="235.0" y2="322.41499999999996" stroke="#000" stroke-width="1.2"/>
<text x="197.6" y="291.6" font-size="8.1" text-anchor="start" fill="#111"><tspan font-style="italic">P</tspan> = .0003</text>
<line x1="197.6" y1="294.9" x2="232.3" y2="294.9" stroke="#222" stroke-width="1.7"/>
<text x="237.3" y="261.8" font-size="11.5" font-weight="bold" text-anchor="start" fill="#000">G</text>
<text x="245.5" y="273.8" font-size="8.33" font-weight="bold" text-anchor="start" fill="#000">donor T cells-derived CD4+Foxp3+ T cells</text>
<line x1="294.5" y1="284.2" x2="294.5" y2="369.1" stroke="#000" stroke-width="1.2"/>
<line x1="294.0" y1="368.6" x2="361.3" y2="368.6" stroke="#000" stroke-width="1.2"/>
<line x1="292.3" y1="368.6" x2="294.5" y2="368.6" stroke="#000" stroke-width="1"/>
<text x="291.0" y="370.70000000000005" font-size="6.0" font-weight="bold" text-anchor="end" fill="#222">0</text>
<line x1="292.3" y1="340.5" x2="294.5" y2="340.5" stroke="#000" stroke-width="1"/>
<text x="291.0" y="342.6" font-size="6.0" font-weight="bold" text-anchor="end" fill="#222">10</text>
<line x1="292.3" y1="312.40000000000003" x2="294.5" y2="312.40000000000003" stroke="#000" stroke-width="1"/>
<text x="291.0" y="314.50000000000006" font-size="6.0" font-weight="bold" text-anchor="end" fill="#222">20</text>
<line x1="292.3" y1="284.3" x2="294.5" y2="284.3" stroke="#000" stroke-width="1"/>
<text x="291.0" y="286.40000000000003" font-size="6.0" font-weight="bold" text-anchor="end" fill="#222">30</text>
<text x="280.2" y="325.0" font-size="6.45" font-weight="bold" text-anchor="middle" fill="#222" transform="rotate(-90 280.2 325.0)">% Foxp3+/CD4+ T cells</text>
<line x1="310.9" y1="368.6" x2="310.9" y2="370.40000000000003" stroke="#000" stroke-width="0.9"/>
<text x="310.9" y="376.5" font-size="6.0" font-weight="bold" text-anchor="middle" fill="#222">PBS</text>
<line x1="342.5" y1="368.6" x2="342.5" y2="370.40000000000003" stroke="#000" stroke-width="0.9"/>
<text x="342.5" y="376.5" font-size="6.0" font-weight="bold" text-anchor="middle" fill="#222">AzaC</text>
<circle cx="310.90" cy="305.94" r="1.9" fill="#000"/>
<circle cx="310.90" cy="320.27" r="1.9" fill="#000"/>
<circle cx="305.60" cy="329.26" r="1.9" fill="#000"/>
<circle cx="316.20" cy="332.35" r="1.9" fill="#000"/>
<circle cx="310.90" cy="332.35" r="1.9" fill="#000"/>
<circle cx="305.60" cy="335.44" r="1.9" fill="#000"/>
<circle cx="316.20" cy="338.81" r="1.9" fill="#000"/>
<circle cx="310.90" cy="339.66" r="1.9" fill="#000"/>
<circle cx="305.60" cy="343.03" r="1.9" fill="#000"/>
<circle cx="310.90" cy="346.12" r="1.9" fill="#000"/>
<circle cx="316.20" cy="345.56" r="1.9" fill="#000"/>
<circle cx="305.60" cy="354.55" r="1.9" fill="#000"/>
<circle cx="310.90" cy="352.58" r="1.9" fill="#000"/>
<circle cx="313.40" cy="354.55" r="1.9" fill="#000"/>
<circle cx="310.90" cy="357.92" r="1.9" fill="#000"/>
<circle cx="316.20" cy="357.36" r="1.9" fill="#000"/>
<line x1="299.9" y1="340.5" x2="321.9" y2="340.5" stroke="#000" stroke-width="1.4"/>
<line x1="310.9" y1="340.5" x2="310.9" y2="327.574" stroke="#000" stroke-width="1.0"/>
<line x1="306.4" y1="327.574" x2="315.4" y2="327.574" stroke="#000" stroke-width="1.2"/>
<circle cx="343.30" cy="293.85" r="1.9" fill="#000"/>
<circle cx="338.40" cy="308.47" r="1.9" fill="#000"/>
<circle cx="348.00" cy="307.90" r="1.9" fill="#000"/>
<circle cx="342.70" cy="315.49" r="1.9" fill="#000"/>
<circle cx="348.00" cy="316.62" r="1.9" fill="#000"/>
<circle cx="338.40" cy="321.67" r="1.9" fill="#000"/>
<circle cx="342.70" cy="321.67" r="1.9" fill="#000"/>
<circle cx="346.90" cy="322.80" r="1.9" fill="#000"/>
<circle cx="337.40" cy="329.26" r="1.9" fill="#000"/>
<circle cx="342.70" cy="329.26" r="1.9" fill="#000"/>
<circle cx="347.80" cy="329.26" r="1.9" fill="#000"/>
<circle cx="338.40" cy="335.44" r="1.9" fill="#000"/>
<circle cx="343.70" cy="334.60" r="1.9" fill="#000"/>
<circle cx="348.00" cy="334.60" r="1.9" fill="#000"/>
<circle cx="342.70" cy="339.94" r="1.9" fill="#000"/>
<circle cx="347.80" cy="338.25" r="1.9" fill="#000"/>
<circle cx="343.30" cy="346.68" r="1.9" fill="#000"/>
<line x1="331.0" y1="324.483" x2="354.0" y2="324.483" stroke="#000" stroke-width="1.4"/>
<line x1="342.5" y1="324.483" x2="342.5" y2="312.119" stroke="#000" stroke-width="1.0"/>
<line x1="338.0" y1="312.119" x2="347.0" y2="312.119" stroke="#000" stroke-width="1.2"/>
<text x="309.2" y="285.8" font-size="8.2" text-anchor="start" fill="#111"><tspan font-style="italic">P</tspan> = .0003</text>
<line x1="308.5" y1="288.3" x2="344.5" y2="288.3" stroke="#000" stroke-width="1.6"/>
</svg>
</body></html>
